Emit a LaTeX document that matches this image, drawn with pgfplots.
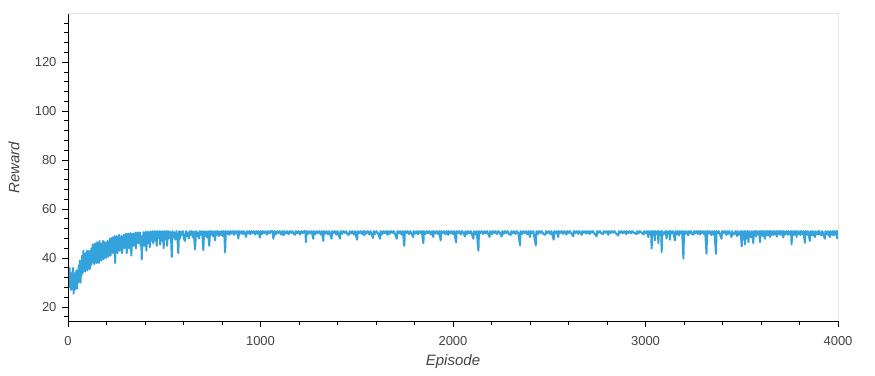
\documentclass[border=0pt]{standalone}
\usepackage{fontspec}
\setmainfont{Liberation Sans}
\usepackage{pgfplots}
\pgfplotsset{compat=1.18}
\definecolor{lineblue}{RGB}{52,162,219}
\definecolor{labelgray}{RGB}{68,68,68}
\definecolor{framegray}{RGB}{229,229,229}
\begin{document}
\begin{tikzpicture}
\useasboundingbox (0pt,0pt) rectangle (875pt,375pt);
\begin{axis}[
  at={(68pt,54pt)}, anchor=south west,
  scale only axis, width=770pt, height=307pt,
  xmin=0, xmax=4000, ymin=14.3, ymax=139.7,
  axis x line*=bottom, axis y line*=left,
  axis line style={-, black, line width=1pt},
  axis on top,
  xtick={0,1000,2000,3000,4000},
  minor xtick={200,400,...,3800},
  ytick={20,40,...,120},
  minor ytick={16,20,...,136},
  tick align=outside, major tick length=6pt, minor tick length=4pt,
  every tick/.style={black, line width=1pt},
  ticklabel style={font=\fontsize{13}{15}\selectfont, text=labelgray},
  xticklabel shift=6pt, yticklabel shift=2pt,
  /pgf/number format/assume math mode=true,
  /pgf/number format/1000 sep={},
  scaled ticks=false,
  xlabel={Episode}, ylabel={Reward},
  label style={font=\fontsize{15}{18}\selectfont\itshape, text=labelgray},
  xlabel style={at={(axis description cs:0.5,-0.1336)}, anchor=center},
  ylabel style={at={(axis description cs:-0.0701,0.5)}, anchor=center},
]
\addplot[lineblue, line width=2pt, line join=round, mark=none] table {
x y
0 130
1 35
5 30
8 36
11 28
14 33
17 27
20 34
23 29
26 36
29 25.5
32 31
35 27
38 34
41 28
44 35
47 27.5
50 33
53 30
56 37
59 31
62 39
65 30
68 36
71 33
74 41
77 34
80 43
83 36
86 40
89 34.5
92 42
95 37
98 43
101 35
104 41
107 38
110 43
113 35.5
116 40
119 37
122 44
125 39
128 45.5
131 38
134 43
137 37.5
140 46
143 40
146 44
149 38
152 46.5
155 41
158 44
161 38
164 47
167 40
170 45
173 39
176 46
179 42
182 47
185 39.5
188 44
191 41
194 46.5
197 40
200 45
203 42
206 47
209 40.5
212 46
215 43
218 48
221 41
224 46
227 44
230 48.5
233 42
236 47
239 44
242 49
245 38
248 46
251 44
254 49
257 42
260 47
263 45
266 49.5
269 43
272 48
275 45
278 49
281 42
284 47
287 46
290 49.5
293 44
296 48
299 46
302 50
305 42
308 48
311 47
314 50
317 44
320 49
323 46
326 50.2
329 41
332 48
335 47
338 50
341 45
344 49
347 47
350 50.4
353 44
356 49
359 47
362 50.5
365 46
368 49
371 48
374 50.5
377 45
380 49
383 39.5
386 48
389 47
392 50.6
395 45
398 49.5
401 48
404 50.8
407 43
410 49
413 48
416 50.8
419 46
422 50
425 44.5
428 50.9
431 48
434 50
437 47
440 51
443 46
446 50
449 49
452 51
455 47
458 50.5
461 45
464 51
467 48
470 50
473 49
476 51
479 45.5
482 50
485 48
488 51
491 47
494 50.5
497 44
500 51
503 48
506 50.8
509 47.5
512 51
515 45
520 51
525 48
530 50.8
535 49
539 40.5
543 51
548 48.5
553 50.5
558 47.5
563 51
568 49
573 42
577 51
582 48
587 50.8
592 49.5
597 51
602 48
608 47
613 51
618 49
623 50.5
628 48
633 51
638 49.5
643 51
648 48.5
653 50.8
660 43.5
665 51
670 49
675 50.5
680 48
685 51
690 49.5
695 51
699 48
703 43.2
707 51
712 49
717 50.8
722 48.5
727 51
734 45
738 51
743 49.5
748 51
753 49
758 50.8
764 47.2
768 51
773 49.5
778 51
783 49
788 50.8
793 49.5
798 51
803 49
808 51
812 50
816 42.3
820 51
826 49.8
832 51
838 49.5
844 51
850 50
856 51
862 49.5
868 51
874 50
880 51
885 48
890 51
896 50
902 51
908 49.8
914 51
920 50
925 48.6
930 51
936 50
942 51
948 49.8
954 51
960 50.2
966 51
972 49.6
978 51
984 50
990 51
997 48.4
1002 51
1008 49.8
1012 51
1020 50.2
1026 51
1034 49.6
1040 51
1048 50.1
1054 51
1062 51
1067 47.9
1072 51
1080 49.7
1086 51
1094 50.2
1100 51
1108 49.6
1114 51
1120 49.3
1123 51
1132 50
1138 51
1146 49.7
1152 51
1160 50.3
1166 51
1174 49.8
1180 49.5
1183 51
1192 50.1
1198 51
1206 49.6
1212 51
1220 50.2
1226 51
1233 51
1236 46.5
1239 51
1246 49.8
1252 51
1260 50.1
1266 51
1274 47.9
1277 51
1285 49.7
1291 51
1299 50.2
1305 51
1313 49.6
1319 51
1326 47
1329 51
1337 50
1343 51
1351 49.7
1357 51
1369 47.9
1372 51
1380 50.2
1386 51
1394 49.6
1400 51
1413 47.9
1416 51
1424 49.9
1430 51
1438 50.3
1444 51
1452 49.7
1460 49.5
1463 51
1471 50.1
1477 51
1485 49.6
1491 51
1502 47.5
1505 51
1513 50.2
1519 51
1527 49.8
1533 51
1540 49.3
1543 51
1551 50.1
1557 51
1565 49.7
1571 51
1585 48.2
1588 51
1596 49.9
1602 51
1610 50.2
1621 47.9
1624 51
1632 49.6
1638 51
1646 50.2
1652 51
1660 49.5
1663 51
1671 49.9
1677 51
1685 50.3
1691 51
1699 49.7
1708 47.9
1711 51
1719 50.1
1725 51
1733 49.6
1739 51
1747 45
1750 51
1758 50.2
1764 51
1772 49.8
1778 51
1793 48.6
1796 51
1804 50
1810 51
1818 49.7
1824 51
1832 50.3
1838 51
1846 46.1
1849 51
1857 49.8
1863 51
1871 50.2
1877 51
1885 49.6
1891 51
1898 48.6
1901 51
1909 50.1
1915 51
1923 49.8
1929 51
1936 47.2
1939 51
1947 50.2
1953 51
1961 49.7
1967 51
1975 49.5
1978 51
1986 50.1
1992 51
2000 49.8
2006 51
2016 46.4
2019 51
2027 50.2
2033 51
2041 49.6
2047 51
2055 50.3
2062 48.8
2065 51
2073 49.8
2079 51
2087 50.1
2093 51
2106 47.9
2109 51
2117 49.7
2123 51
2132 43
2135 51
2143 50.2
2149 51
2157 49.8
2163 51
2171 50.1
2177 51
2190 48.6
2193 51
2201 49.7
2207 51
2215 50.2
2221 51
2229 49.8
2235 51
2243 50.3
2253 48.8
2256 51
2264 49.9
2270 51
2278 50.2
2284 51
2292 49.7
2300 49.5
2303 51
2311 50.1
2317 51
2325 49.8
2331 51
2339 50.3
2348 45.2
2351 51
2359 49.8
2365 51
2373 50.2
2379 51
2387 49.7
2393 51
2400 48.6
2403 51
2411 50.2
2417 51
2430 45.2
2433 51
2441 49.8
2447 51
2455 50.3
2461 51
2469 49.9
2480 49.5
2483 51
2491 50.2
2497 51
2505 49.8
2511 51
2523 47.5
2526 51
2534 50.1
2540 51
2547 48.6
2550 51
2558 50.3
2564 51
2572 49.9
2578 51
2590 49.6
2593 51
2601 50.3
2607 51
2615 50
2625 48.9
2628 51
2636 50.3
2642 51
2650 49.9
2656 51
2669 49.5
2672 51
2680 50.3
2686 51
2694 50
2700 51
2710 49.8
2713 51
2721 50.4
2727 51
2735 50
2746 48.9
2749 51
2757 50.3
2763 51
2771 50.1
2780 49.8
2783 51
2791 50.4
2797 51
2807 49.5
2810 51
2818 50.2
2824 51
2832 50.4
2838 51
2846 50.1
2859 49.2
2862 51
2870 50.3
2876 51
2884 50.1
2890 51
2900 49.8
2903 51
2911 50.3
2917 51
2925 50.1
2931 51
2939 50.4
2954 49.8
2957 51
2965 50.2
2971 51
2979 50.4
2990 49.6
2993 51
3001 50.2
3007 51
3015 48.6
3018 51
3024 49.8
3029 51
3032 43.9
3035 51
3041 49.6
3046 51
3049 47.2
3052 51
3058 49.8
3064 51
3067 46.1
3070 51
3076 50
3081 51
3084 42.5
3087 51
3093 49.6
3098 50.3
3104 51
3110 48
3113 51
3119 49.9
3124 51
3127 47.5
3130 51
3136 50.2
3142 51
3153 47.2
3156 51
3162 49.7
3168 51
3175 49.3
3178 51
3184 50.2
3190 51
3197 39.8
3200 51
3206 49.8
3212 51
3222 49.3
3225 51
3231 50.1
3237 51
3243 49.7
3250 49.6
3253 51
3259 50.2
3265 51
3271 49.9
3277 51
3283 49.6
3286 51
3292 50.2
3298 51
3304 49.8
3310 51
3317 41.8
3320 51
3326 50
3332 51
3343 49.3
3346 51
3352 49.8
3358 51
3366 41.7
3369 51
3375 50.1
3381 51
3387 49.7
3395 47.9
3398 51
3404 50.2
3410 51
3420 49.5
3423 51
3429 49.9
3435 51
3447 48.6
3450 51
3456 49.6
3463 50
3468 51
3475 49
3478 51
3484 49.5
3488 50
3494 51
3500 44.8
3503 51
3507 49.3
3510 47.5
3513 51
3517 45.6
3520 51
3524 49.5
3527 48
3530 51
3535 46.5
3538 51
3542 49.6
3548 48.5
3551 51
3555 49.8
3560 46.1
3563 51
3567 49.4
3572 51
3575 48.8
3578 51
3585 49.7
3590 51
3595 46.5
3598 51
3603 49.6
3607 51
3610 49
3613 51
3621 47.9
3624 51
3628 49.7
3632 51
3635 49.2
3638 51
3641 49.9
3644 51
3647 48.6
3650 51
3656 49.5
3662 51
3665 49.4
3668 51
3674 49.8
3679 51
3682 48.8
3685 51
3691 49.9
3697 51
3700 49.5
3703 51
3708 49.7
3713 51
3716 48.4
3719 51
3725 49.6
3731 51
3740 49.5
3743 51
3749 49.8
3756 51
3759 45.6
3762 51
3770 49.3
3773 51
3777 49.8
3782 51
3785 48.6
3788 51
3795 49.7
3802 51
3805 49.4
3808 51
3815 49.8
3820 51
3828 46.2
3831 51
3840 49.5
3843 51
3847 49.8
3854 47
3857 51
3866 49.3
3869 51
3873 49.8
3880 48.6
3883 51
3890 49.7
3897 51
3900 49.6
3903 51
3908 49.8
3915 49.3
3918 51
3924 49.7
3932 47.9
3935 51
3945 49.6
3948 51
3952 49.8
3958 48.6
3961 51
3970 49.5
3973 51
3979 49.3
3982 51
3990 49.6
3993 51
3995 48
3998 51
4000 50
};
\end{axis}
\draw[framegray, line width=1pt] (current axis.north west) -- (current axis.north east) -- (current axis.south east);
\end{tikzpicture}
\end{document}
